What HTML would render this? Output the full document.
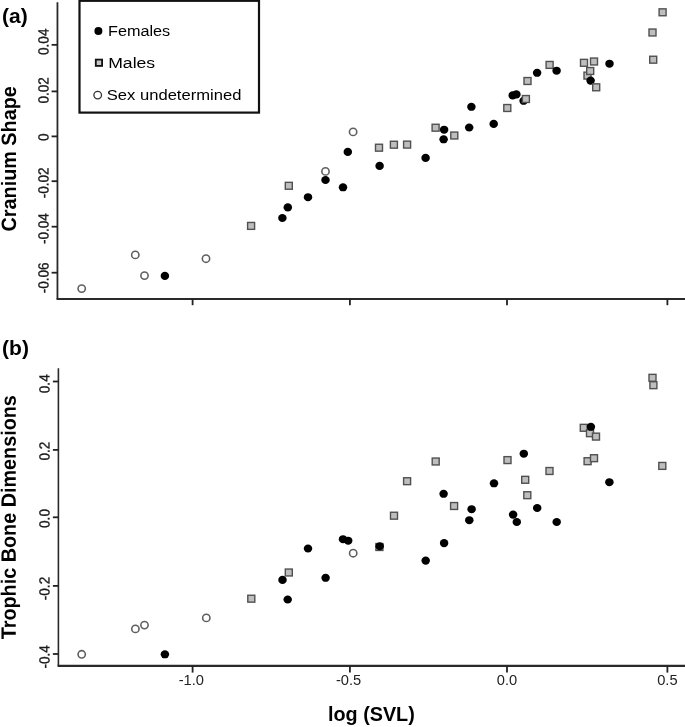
<!DOCTYPE html>
<html><head><meta charset="utf-8"><title>Cranium shape and trophic bone dimensions vs log(SVL)</title>
<style>
html,body{margin:0;padding:0;background:#fff;}
body{width:685px;height:727px;overflow:hidden;}
svg{display:block;will-change:transform;font-family:"Liberation Sans",sans-serif;}
.ax{fill:none;stroke:#2a2a2a;stroke-width:2.1;}
.tk{fill:none;stroke:#222;stroke-width:1.8;}
.f{fill:#000;}
.u{fill:#fff;stroke:#606060;stroke-width:1.6;}
.m{fill:#bebebe;stroke:#505050;stroke-width:1.4;}
.yl{font-size:14px;fill:#1a1a1a;stroke:#1a1a1a;stroke-width:0.3;text-anchor:middle;}
.xl{font-size:14px;fill:#222;text-anchor:middle;}
.lab{font-size:20px;font-weight:bold;fill:#000;}
.lg{font-size:15.4px;fill:#000;}
</style></head><body>
<svg width="685" height="727" viewBox="0 0 685 727">
<rect width="685" height="727" fill="#fff"/>
<path d="M57.45 2.2 V299.0" class="ax" style="stroke-width:1.8"/>
<path d="M56.55 299.0 H685" class="ax"/>
<path d="M51.6 44.85 H57.45" class="tk"/>
<text class="yl" transform="translate(48.5 41.75) rotate(-89.97) scale(0.97 1.05)">0.04</text>
<path d="M51.6 91.4 H57.45" class="tk"/>
<text class="yl" transform="translate(48.5 90.3) rotate(-89.97) scale(0.97 1.05)">0.02</text>
<path d="M51.6 136.4 H57.45" class="tk"/>
<text class="yl" transform="translate(48.5 137.1) rotate(-89.97) scale(0.97 1.05)">0</text>
<path d="M51.6 181.2 H57.45" class="tk"/>
<text class="yl" transform="translate(48.5 182.85) rotate(-89.97) scale(0.97 1.05)">-0.02</text>
<path d="M51.6 226.7 H57.45" class="tk"/>
<text class="yl" transform="translate(48.5 228.6) rotate(-89.97) scale(0.97 1.05)">-0.04</text>
<path d="M51.6 272.7 H57.45" class="tk"/>
<text class="yl" transform="translate(48.5 277.8) rotate(-89.97) scale(0.97 1.05)">-0.06</text>
<path d="M192.6 299.0 V305.2" class="tk"/>
<path d="M349.9 299.0 V305.2" class="tk"/>
<path d="M507.0 299.0 V305.2" class="tk"/>
<path d="M667.4 299.0 V305.2" class="tk"/>
<path d="M58.4 368.2 V665.9" class="ax" style="stroke-width:1.6"/>
<path d="M57.60 665.9 H685" class="ax"/>
<path d="M52.9 381.5 H58.4" class="tk"/>
<text class="yl" transform="translate(49.4 383.75) rotate(-89.97) scale(0.97 1.05)">0.4</text>
<path d="M52.9 449.9 H58.4" class="tk"/>
<text class="yl" transform="translate(49.4 451.05) rotate(-89.97) scale(0.97 1.05)">0.2</text>
<path d="M52.9 517.3 H58.4" class="tk"/>
<text class="yl" transform="translate(49.4 518.5) rotate(-89.97) scale(0.97 1.05)">0.0</text>
<path d="M52.9 585.9 H58.4" class="tk"/>
<text class="yl" transform="translate(49.4 588.5) rotate(-89.97) scale(0.97 1.05)">-0.2</text>
<path d="M52.9 654.0 H58.4" class="tk"/>
<text class="yl" transform="translate(49.4 656.85) rotate(-89.97) scale(0.97 1.05)">-0.4</text>
<path d="M192.6 665.9 V672.6" class="tk"/>
<text class="xl" transform="translate(191.30 684.8) scale(1.05 1)">-1.0</text>
<path d="M349.9 665.9 V672.6" class="tk"/>
<text class="xl" transform="translate(348.60 684.8) scale(1.05 1)">-0.5</text>
<path d="M507.0 665.9 V672.6" class="tk"/>
<text class="xl" transform="translate(507.00 684.8) scale(1.05 1)">0.0</text>
<path d="M667.4 665.9 V672.6" class="tk"/>
<text class="xl" transform="translate(667.40 684.8) scale(1.05 1)">0.5</text>
<text class="lab" x="2.1" y="23" style="font-size:21px">(a)</text>
<text class="lab" x="2.1" y="355" style="font-size:21px">(b)</text>
<text class="lab" text-anchor="middle" transform="translate(16.0 158.85) rotate(-89.97) scale(1 1.05)" style="font-size:19.8px">Cranium Shape</text>
<text class="lab" text-anchor="middle" transform="translate(15.8 517.2) rotate(-89.97) scale(1 1.05)" style="font-size:19.8px">Trophic Bone Dimensions</text>
<text class="lab" text-anchor="middle" transform="translate(371.4 721.4) scale(1.02 1)" style="font-size:19.4px">log (SVL)</text>
<rect x="79.5" y="0.8" width="179.5" height="111.8" fill="#fff" stroke="#111" stroke-width="2.2"/>
<circle cx="98.4" cy="30.9" r="4.0" fill="#000"/>
<text class="lg" x="108.0" y="35.5" textLength="62.2" lengthAdjust="spacingAndGlyphs">Females</text>
<rect x="95.8" y="59.6" width="6.3" height="6.3" fill="#c8c8c8" stroke="#111" stroke-width="1.8"/>
<text class="lg" x="108.2" y="67.6" textLength="47" lengthAdjust="spacingAndGlyphs">Males</text>
<circle cx="97.7" cy="95.1" r="3.8" fill="#fff" stroke="#333" stroke-width="1.3"/>
<text class="lg" x="106.8" y="99.9" textLength="134.6" lengthAdjust="spacingAndGlyphs">Sex undetermined</text>
<circle cx="81.7" cy="288.6" r="3.65" class="u"/>
<circle cx="135.3" cy="254.9" r="3.65" class="u"/>
<circle cx="144.5" cy="275.6" r="3.65" class="u"/>
<ellipse cx="164.9" cy="275.9" rx="4.25" ry="4.05" class="f"/>
<circle cx="206" cy="258.7" r="3.65" class="u"/>
<rect x="247.60" y="222.45" width="7.0" height="6.9" class="m"/>
<ellipse cx="282.4" cy="218" rx="4.25" ry="4.05" class="f"/>
<ellipse cx="287.8" cy="207.4" rx="4.25" ry="4.05" class="f"/>
<rect x="285.30" y="182.35" width="7.0" height="6.9" class="m"/>
<ellipse cx="308" cy="197.2" rx="4.25" ry="4.05" class="f"/>
<circle cx="325.5" cy="171.4" r="3.65" class="u"/>
<ellipse cx="325.5" cy="180" rx="4.25" ry="4.05" class="f"/>
<ellipse cx="343" cy="187.3" rx="4.25" ry="4.05" class="f"/>
<ellipse cx="347.8" cy="151.9" rx="4.25" ry="4.05" class="f"/>
<circle cx="353.1" cy="131.9" r="3.65" class="u"/>
<rect x="375.50" y="144.25" width="7.0" height="6.9" class="m"/>
<ellipse cx="379.6" cy="165.9" rx="4.25" ry="4.05" class="f"/>
<rect x="390.40" y="141.25" width="7.0" height="6.9" class="m"/>
<rect x="403.60" y="141.15" width="7.0" height="6.9" class="m"/>
<ellipse cx="425.6" cy="157.9" rx="4.25" ry="4.05" class="f"/>
<rect x="432.10" y="124.25" width="7.0" height="6.9" class="m"/>
<ellipse cx="444.1" cy="129.7" rx="4.25" ry="4.05" class="f"/>
<ellipse cx="443.6" cy="139.3" rx="4.25" ry="4.05" class="f"/>
<rect x="450.80" y="132.05" width="7.0" height="6.9" class="m"/>
<ellipse cx="469.2" cy="127.5" rx="4.25" ry="4.05" class="f"/>
<ellipse cx="471.4" cy="106.8" rx="4.25" ry="4.05" class="f"/>
<ellipse cx="493.7" cy="123.9" rx="4.25" ry="4.05" class="f"/>
<rect x="503.80" y="104.55" width="7.0" height="6.9" class="m"/>
<ellipse cx="512.7" cy="95.4" rx="4.25" ry="4.05" class="f"/>
<ellipse cx="516.4" cy="94.4" rx="4.25" ry="4.05" class="f"/>
<ellipse cx="523.6" cy="100.8" rx="4.25" ry="4.05" class="f"/>
<rect x="522.40" y="95.55" width="7.0" height="6.9" class="m"/>
<rect x="524.00" y="77.55" width="7.0" height="6.9" class="m"/>
<ellipse cx="537.1" cy="72.8" rx="4.25" ry="4.05" class="f"/>
<rect x="546.10" y="61.45" width="7.0" height="6.9" class="m"/>
<ellipse cx="556.6" cy="70.7" rx="4.25" ry="4.05" class="f"/>
<rect x="580.50" y="59.35" width="7.0" height="6.9" class="m"/>
<rect x="590.50" y="58.05" width="7.0" height="6.9" class="m"/>
<rect x="584.00" y="72.15" width="7.0" height="6.9" class="m"/>
<rect x="586.70" y="67.55" width="7.0" height="6.9" class="m"/>
<ellipse cx="590.6" cy="80.6" rx="4.25" ry="4.05" class="f"/>
<rect x="592.70" y="83.85" width="7.0" height="6.9" class="m"/>
<ellipse cx="609.5" cy="63.7" rx="4.25" ry="4.05" class="f"/>
<rect x="649.00" y="29.05" width="7.0" height="6.9" class="m"/>
<rect x="649.70" y="56.25" width="7.0" height="6.9" class="m"/>
<rect x="659.10" y="8.85" width="7.0" height="6.9" class="m"/>
<circle cx="81.7" cy="654.3" r="3.65" class="u"/>
<circle cx="135.4" cy="628.9" r="3.65" class="u"/>
<circle cx="144.5" cy="625.1" r="3.65" class="u"/>
<ellipse cx="164.9" cy="654.3" rx="4.25" ry="4.05" class="f"/>
<circle cx="206.3" cy="617.9" r="3.65" class="u"/>
<rect x="247.80" y="595.25" width="7.0" height="6.9" class="m"/>
<rect x="285.30" y="569.05" width="7.0" height="6.9" class="m"/>
<ellipse cx="282.5" cy="579.9" rx="4.25" ry="4.05" class="f"/>
<ellipse cx="287.7" cy="599.5" rx="4.25" ry="4.05" class="f"/>
<ellipse cx="308" cy="548.5" rx="4.25" ry="4.05" class="f"/>
<ellipse cx="325.6" cy="577.8" rx="4.25" ry="4.05" class="f"/>
<ellipse cx="343" cy="539.2" rx="4.25" ry="4.05" class="f"/>
<ellipse cx="348.2" cy="540.7" rx="4.25" ry="4.05" class="f"/>
<circle cx="353.2" cy="553.2" r="3.65" class="u"/>
<rect x="375.90" y="543.55" width="7.0" height="6.9" class="m"/>
<ellipse cx="379.7" cy="546.2" rx="4.25" ry="4.05" class="f"/>
<rect x="390.50" y="512.25" width="7.0" height="6.9" class="m"/>
<rect x="403.60" y="477.75" width="7.0" height="6.9" class="m"/>
<ellipse cx="425.7" cy="560.6" rx="4.25" ry="4.05" class="f"/>
<rect x="432.20" y="458.05" width="7.0" height="6.9" class="m"/>
<ellipse cx="443.6" cy="493.8" rx="4.25" ry="4.05" class="f"/>
<ellipse cx="444.1" cy="543.1" rx="4.25" ry="4.05" class="f"/>
<rect x="450.60" y="502.55" width="7.0" height="6.9" class="m"/>
<ellipse cx="469.3" cy="520.2" rx="4.25" ry="4.05" class="f"/>
<ellipse cx="471.6" cy="509.2" rx="4.25" ry="4.05" class="f"/>
<ellipse cx="494" cy="483.3" rx="4.25" ry="4.05" class="f"/>
<rect x="504.00" y="456.65" width="7.0" height="6.9" class="m"/>
<ellipse cx="513.1" cy="514.6" rx="4.25" ry="4.05" class="f"/>
<ellipse cx="516.8" cy="522" rx="4.25" ry="4.05" class="f"/>
<ellipse cx="523.8" cy="453.7" rx="4.25" ry="4.05" class="f"/>
<rect x="521.70" y="476.35" width="7.0" height="6.9" class="m"/>
<rect x="523.80" y="491.75" width="7.0" height="6.9" class="m"/>
<ellipse cx="537.2" cy="508" rx="4.25" ry="4.05" class="f"/>
<rect x="546.00" y="467.55" width="7.0" height="6.9" class="m"/>
<ellipse cx="556.7" cy="522" rx="4.25" ry="4.05" class="f"/>
<rect x="580.30" y="424.35" width="7.0" height="6.9" class="m"/>
<rect x="586.50" y="429.75" width="7.0" height="6.9" class="m"/>
<ellipse cx="590.9" cy="426.8" rx="4.25" ry="4.05" class="f"/>
<rect x="592.50" y="433.15" width="7.0" height="6.9" class="m"/>
<rect x="584.10" y="457.75" width="7.0" height="6.9" class="m"/>
<rect x="590.50" y="454.75" width="7.0" height="6.9" class="m"/>
<ellipse cx="609.4" cy="482.2" rx="4.25" ry="4.05" class="f"/>
<rect x="649.00" y="374.35" width="7.0" height="6.9" class="m"/>
<rect x="649.90" y="381.75" width="7.0" height="6.9" class="m"/>
<rect x="658.80" y="462.45" width="7.0" height="6.9" class="m"/>
</svg>
</body></html>
